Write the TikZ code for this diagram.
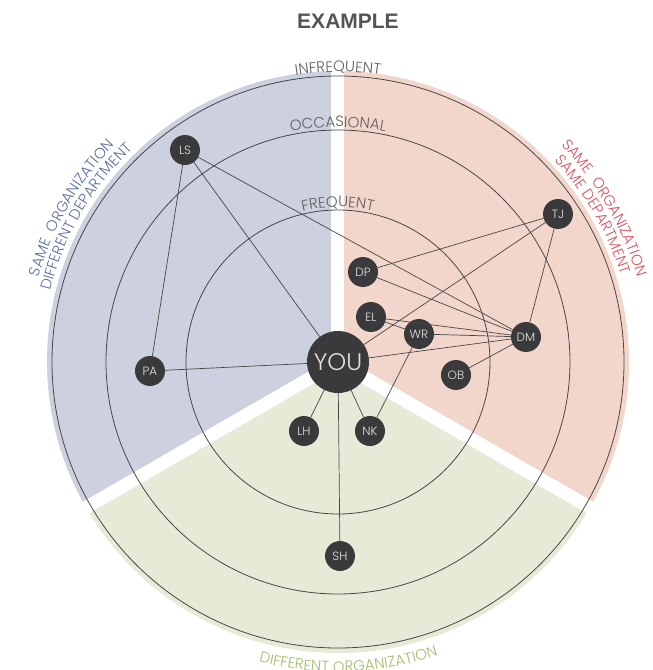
\documentclass[tikz,border=0pt]{standalone}
\usepackage{fontspec}
\setmainfont{Liberation Sans}
\newfontfamily\thinfont{Poppins Light}
\usetikzlibrary{decorations.text}

\definecolor{deptblue}{HTML}{CDD0DF}
\definecolor{deptred}{HTML}{F3D6CB}
\definecolor{orggreen}{HTML}{E6EBD8}
\definecolor{bluetext}{HTML}{5A6F9F}
\definecolor{redtext}{HTML}{D65560}
\definecolor{greentext}{HTML}{A2BE6C}
\definecolor{ringgray}{HTML}{5F5F5F}
\definecolor{nodedark}{HTML}{3A3A3C}

\begin{document}
\begin{tikzpicture}[x=1pt,y=1pt]
    \tikzstyle{person}=[circle, fill=nodedark, text=white!88!black, minimum size=30pt, inner sep=0pt, font=\thinfont\fontsize{12}{12}\selectfont]
    \tikzstyle{me}=[person, minimum size=62pt, font=\thinfont\fontsize{24}{24}\selectfont]
    \tikzstyle{link}=[draw=black!72, line width=0.7pt]
    \tikzstyle{ring}=[draw=black!72, line width=0.8pt]
    \tikzstyle{gap}=[draw=white, line width=13pt]
    \useasboundingbox (-338,-308) rectangle (315,362);

    % three groups
    \fill[deptblue] (0,0) -- (90:291pt) arc[start angle=90, end angle=210, radius=291pt] -- cycle;
    \fill[deptred] (0,0) -- (-30:291pt) arc[start angle=-30, end angle=90, radius=291pt] -- cycle;
    \fill[orggreen] (0,0) -- (210:291pt) arc[start angle=210, end angle=330, radius=291pt] -- cycle;
    \draw[gap] (0,0) -- (90:300pt);
    \draw[gap] (0,0) -- (210:300pt);
    \draw[gap] (0,0) -- (330:300pt);

    % contact rings
    \draw[ring] (0,0) circle[radius=152pt];
    \draw[ring] (0,0) circle[radius=232pt];
    \draw[ring] (0,0) circle[radius=286pt];

    \path[decorate, decoration={text along path, text align=center, text color=ringgray,
        text={|\thinfont\fontsize{15}{15}\selectfont|INFREQUENT}}]
        (150:290pt) arc[start angle=150, end angle=30, radius=290pt];
    \path[decorate, decoration={text along path, text align=center, text color=ringgray,
        text={|\thinfont\fontsize{15}{15}\selectfont|OCCASIONAL}}]
        (150:235pt) arc[start angle=150, end angle=30, radius=235pt];
    \path[decorate, decoration={text along path, text align=center, text color=ringgray,
        text={|\thinfont\fontsize{15}{15}\selectfont|FREQUENT}}]
        (150:155pt) arc[start angle=150, end angle=30, radius=155pt];

    % group names
    \path[decorate, decoration={text along path, text align=center, text color=bluetext,
        text={|\thinfont\fontsize{15}{15}\selectfont|SAME {\ }ORGANIZATION}}]
        (190:311pt) arc[start angle=190, end angle=110, radius=311pt];
    \path[decorate, decoration={text along path, text align=center, text color=bluetext,
        text={|\thinfont\fontsize{15}{15}\selectfont|DIFFERENT DEPARTMENT}}]
        (190:296pt) arc[start angle=190, end angle=110, radius=296pt];
    \path[decorate, decoration={text along path, text align=center, text color=redtext,
        text={|\thinfont\fontsize{15}{15}\selectfont|SAME {\ }ORGANIZATION}}]
        (70:311pt) arc[start angle=70, end angle=-10, radius=311pt];
    \path[decorate, decoration={text along path, text align=center, text color=redtext,
        text={|\thinfont\fontsize{15}{15}\selectfont|SAME DEPARTMENT}}]
        (70:296pt) arc[start angle=70, end angle=-10, radius=296pt];
    \path[decorate, decoration={text along path, text align=center, text color=greentext,
        text={|\thinfont\fontsize{15}{15}\selectfont|DIFFERENT ORGANIZATION}}]
        (227:310pt) arc[start angle=227, end angle=317, radius=310pt];

    \node[font=\bfseries\fontsize{21}{21}\selectfont, text=black!67] (title) at (10,341) {EXAMPLE};

    % people
    \node [me] (YOU) at (0,0) {YOU};
    \node [person] (LS) at (-153,212) {LS};
    \node [person] (PA) at (-188,-9) {PA};
    \node [person] (TJ) at (220,148) {TJ};
    \node [person] (DP) at (25,90) {DP};
    \node [person] (EL) at (33,45) {EL};
    \node [person] (WR) at (81,28) {WR};
    \node [person] (DM) at (188,25) {DM};
    \node [person] (OB) at (118,-13) {OB};
    \node [person] (LH) at (-34,-69) {LH};
    \node [person] (NK) at (32,-69) {NK};
    \node [person] (SH) at (2,-194) {SH};

    \draw [link] (LS) -- (PA);
    \draw [link] (LS) -- (YOU);
    \draw [link] (LS) -- (DM);
    \draw [link] (PA) -- (YOU);
    \draw [link] (TJ) -- (DP);
    \draw [link] (TJ) -- (YOU);
    \draw [link] (TJ) -- (DM);
    \draw [link] (DP) -- (DM);
    \draw [link] (EL) -- (DM);
    \draw [link] (EL) -- (WR);
    \draw [link] (WR) -- (DM);
    \draw [link] (YOU) -- (DM);
    \draw [link] (OB) -- (DM);
    \draw [link] (WR) -- (NK);
    \draw [link] (YOU) -- (LH);
    \draw [link] (YOU) -- (NK);
    \draw [link] (YOU) -- (SH);
\end{tikzpicture}
\end{document}
